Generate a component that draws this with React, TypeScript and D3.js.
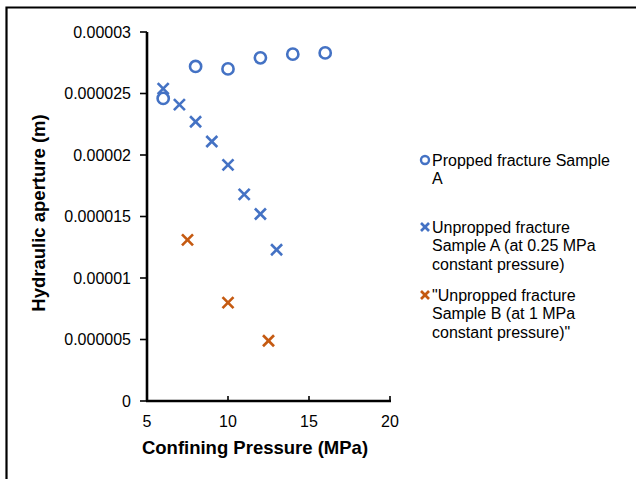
import React from "react";
import * as d3 from "d3";

const proppedX = [6, 8, 10, 12, 14, 16];
const proppedY = [0.0000246, 0.0000272, 0.0000270, 0.0000279, 0.0000282, 0.0000283];
const unproppedAX = [6, 7, 8, 9, 10, 11, 12, 13];
const unproppedAY = [0.0000254, 0.0000241, 0.0000227, 0.0000211, 0.0000192, 0.0000168, 0.0000152, 0.0000123];
const unproppedBX = [7.5, 10, 12.5];
const unproppedBY = [0.0000131, 0.0000080, 0.0000049];
const xTicks = [5, 10, 15, 20];
const yTicks = [0, 0.000005, 0.00001, 0.000015, 0.00002, 0.000025, 0.00003];
const yTickLabels = ["0", "0.000005", "0.00001", "0.000015", "0.00002", "0.000025", "0.00003"];
const legendLabels = [
  ["Propped fracture Sample", "A"],
  ["Unpropped fracture", "Sample A (at 0.25 MPa", "constant pressure)"],
  ["\"Unpropped fracture", "Sample B (at 1 MPa", "constant pressure)\""],
];

const BLUE = "#4472C4";
const ORANGE = "#C55A11";
const FONT = "Liberation Sans, Arial, sans-serif";

function Cross({ x, y, color, s = 5.5 }: { x: number; y: number; color: string; s?: number }) {
  return (
    <g stroke={color} strokeWidth={2.6}>
      <line x1={x - s} y1={y - s} x2={x + s} y2={y + s} />
      <line x1={x - s} y1={y + s} x2={x + s} y2={y - s} />
    </g>
  );
}

export default function App() {
  const x = d3.scaleLinear().domain([5, 20]).range([147, 390]);
  const y = d3.scaleLinear().domain([0, 0.00003]).range([401, 32]);

  const legendY = [160, 227, 295];
  const lineH = 18.5;

  return (
    <svg width={636} height={479} style={{ position: "absolute", left: 0, top: 0, background: "#fff" }} fontFamily={FONT}>
      <rect x={0} y={0} width={636} height={479} fill="#fff" />
      <path d="M6.5,479 L6.5,7.5 L636,7.5" fill="none" stroke="#000" strokeWidth={2.2} />

      {/* axes */}
      <line x1={147} y1={y(0)} x2={147} y2={y(0.00003)} stroke="#000" strokeWidth={2.6} />
      <line x1={146} y1={y(0)} x2={x(20) + 1} y2={y(0)} stroke="#000" strokeWidth={2.6} />
      {yTicks.map((t, i) => (
        <g key={"yt" + i}>
          <line x1={140} x2={147} y1={y(t)} y2={y(t)} stroke="#000" strokeWidth={1.6} />
          <text x={131} y={y(t)} dy="0.35em" textAnchor="end" fontSize={16} fill="#000">
            {yTickLabels[i]}
          </text>
        </g>
      ))}
      {xTicks.map((t, i) => (
        <g key={"xt" + i}>
          <line x1={x(t)} x2={x(t)} y1={y(0)} y2={y(0) - 5} stroke="#000" strokeWidth={1.6} />
          <text x={x(t)} y={427} textAnchor="middle" fontSize={16} fill="#000">
            {t}
          </text>
        </g>
      ))}
      <text x={255} y={454} textAnchor="middle" fontSize={18.5} fontWeight="bold" fill="#000">
        Confining Pressure (MPa)
      </text>
      <text
        transform={`translate(45,213) rotate(-90)`}
        textAnchor="middle"
        fontSize={18.5}
        fontWeight="bold"
        fill="#000"
      >
        Hydraulic aperture (m)
      </text>

      {/* data */}
      {proppedX.map((v, i) => (
        <circle key={"p" + i} cx={x(v)} cy={y(proppedY[i])} r={5.6} fill="none" stroke={BLUE} strokeWidth={2.6} />
      ))}
      {unproppedAX.map((v, i) => (
        <Cross key={"a" + i} x={x(v)} y={y(unproppedAY[i])} color={BLUE} />
      ))}
      {unproppedBX.map((v, i) => (
        <Cross key={"b" + i} x={x(v)} y={y(unproppedBY[i])} color={ORANGE} />
      ))}

      {/* legend */}
      {legendLabels.map((lines, i) => (
        <g key={"lg" + i}>
          {i === 0 ? (
            <circle cx={425} cy={legendY[i]} r={4} fill="none" stroke={BLUE} strokeWidth={2.4} />
          ) : (
            <Cross x={425} y={legendY[i]} color={i === 1 ? BLUE : ORANGE} s={4} />
          )}
          {lines.map((l, j) => (
            <text key={j} x={432} y={legendY[i] + j * lineH} dy="0.35em" fontSize={16} fill="#000">
              {l}
            </text>
          ))}
        </g>
      ))}
    </svg>
  );
}
